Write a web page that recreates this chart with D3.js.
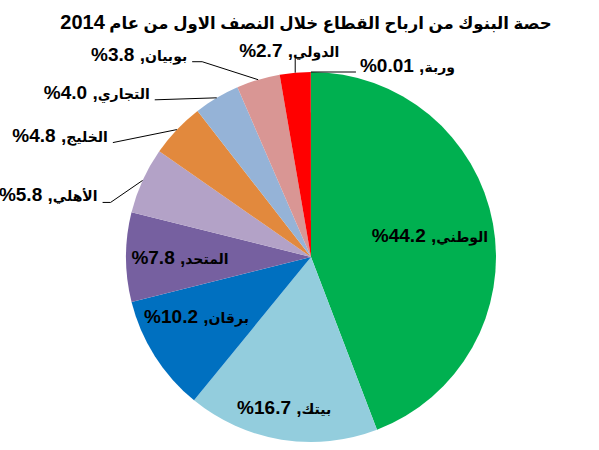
<!DOCTYPE html>
<html><head><meta charset="utf-8">
<script src="https://cdn.jsdelivr.net/npm/d3@7"></script>
<style>
html,body{margin:0;padding:0;background:#fff;}
svg{display:block;}
text{font-family:"Liberation Sans","DejaVu Sans",Arial,sans-serif;font-weight:bold;fill:#000;}
</style></head>
<body>
<script>
const titleText = "حصة البنوك من ارباح القطاع خلال النصف الاول من عام";
const titleYear = "2014";
const categories = ["الوطني","بيتك","برقان","المتحد","الأهلي","الخليج","التجاري","بوبيان","الدولي","وربة"];
const values = [44.2, 16.7, 10.2, 7.8, 5.8, 4.8, 4.0, 3.8, 2.7, 0.01];
const valueLabels = ["44.2","16.7","10.2","7.8","5.8","4.8","4.0","3.8","2.7","0.01"];
const colors = ["#00B050","#93CDDD","#0070C0","#7660A0","#B3A2C7","#E2893D","#95B3D7","#D99694","#FF0000","#7F7F7F"];

const W = 599, H = 450;
const cx = 311, cy = 257, R = 185;
const arFont = "14px", numFont = "19px";

// label layout (placement only)
const layout = [
  {inside:true, r:121, da:0},
  {inside:true, r:152, da:1},
  {inside:true, r:129, da:5},
  {inside:true, r:131, da:0},
  {dx:-40, dy:22, elbow:8, side:"left"},
  {dx:-64, dy:13, elbow:0, side:"left"},
  {dx:-62, dy:2, elbow:0, side:"left"},
  {dx:-66, dy:-18, elbow:10, side:"left"},
  {dx:0, dy:-15, side:"top"},
  {dx:45, dy:0, side:"right"}
];

const svg = d3.select("body").append("svg").attr("width", W).attr("height", H);

const tt = svg.append("text").attr("x", 306).attr("y", 29)
  .attr("text-anchor","middle").attr("direction","rtl");
tt.append("tspan").style("font-size","16.5px").text(titleText + " ");
tt.append("tspan").style("font-size","20px").text(titleYear);

const pie = d3.pie().sort(null).value(d => d)(values);
const arc = d3.arc().innerRadius(0).outerRadius(R);
const g = svg.append("g").attr("transform", `translate(${cx},${cy})`);

g.selectAll("path").data(pie).join("path")
  .attr("d", arc).attr("fill", (d,i) => colors[i]);

function polar(a, r){ return [r*Math.sin(a), -r*Math.cos(a)]; }

function label(i){
  const t = g.append("text").attr("direction","rtl").attr("text-anchor","middle");
  t.append("tspan").style("font-size", arFont).text(categories[i]);
  t.append("tspan").style("font-size", numFont).text(", " + valueLabels[i] + "%");
  return t;
}

pie.forEach((d,i) => {
  const L = layout[i];
  const mid = (d.startAngle + d.endAngle)/2;
  if (L.inside) {
    const [x,y] = polar(mid + L.da*Math.PI/180, L.r);
    label(i).attr("x", x).attr("y", y + 7);
  } else {
    const [ax, ay] = polar(mid, R);
    const ex = ax + L.dx, ey = ay + L.dy;
    let pts;
    if (L.side === "left") {
      pts = L.elbow ? [[ax,ay],[ex + L.elbow, ey],[ex,ey]] : [[ax,ay],[ex,ey]];
    } else {
      pts = [[ax,ay],[ex,ey]];
    }
    g.append("path").attr("d", d3.line()(pts))
      .attr("fill","none").attr("stroke","#000").attr("stroke-width",1);
    const t = label(i);
    const w = t.node().getComputedTextLength();
    if (L.side === "left") {
      t.attr("x", ex - 5 - w/2).attr("y", ey - 1);
    } else if (L.side === "top") {
      t.attr("x", ex - 6).attr("y", ey - 1);
    } else {
      t.attr("x", ex + 4 + w/2).attr("y", ey);
    }
  }
});
</script>
</body></html>
